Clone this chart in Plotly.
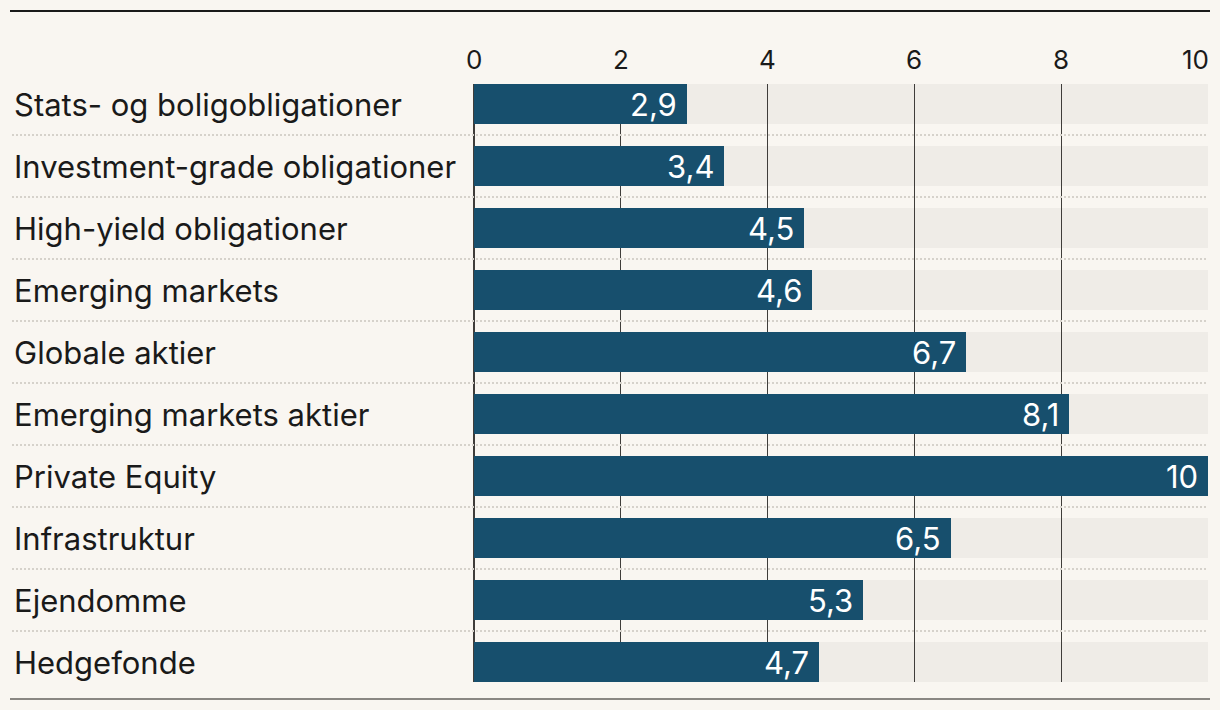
import plotly.graph_objects as go

categories = [
    "Stats- og boligobligationer",
    "Investment-grade obligationer",
    "High-yield obligationer",
    "Emerging markets",
    "Globale aktier",
    "Emerging markets aktier",
    "Private Equity",
    "Infrastruktur",
    "Ejendomme",
    "Hedgefonde",
]
values = [2.9, 3.4, 4.5, 4.6, 6.7, 8.1, 10, 6.5, 5.3, 4.7]
tick_vals = [0, 2, 4, 6, 8, 10]
x_max = 10

BG = "#F9F6F1"
TRACK = "#EFECE7"
BLUE = "#174F6D"
FONT = "Inter"

n = len(categories)
idx = list(range(n))
half = 20 / 62  # bar half-height in row units

fig = go.Figure()
fig.add_trace(go.Bar(
    x=values, y=idx, orientation="h",
    width=2 * half, marker=dict(color=BLUE, line=dict(width=0)),
    hoverinfo="skip", showlegend=False,
))

shapes = []
# background tracks
for i in idx:
    shapes.append(dict(type="rect", xref="x", yref="y", x0=0, x1=x_max,
                       y0=i - half, y1=i + half, fillcolor=TRACK,
                       line=dict(width=0), layer="below"))
# dotted separators
for i in idx[:-1]:
    shapes.append(dict(type="line", xref="paper", yref="y",
                       x0=(12 - 474) / 734, x1=1.0, y0=i + 0.5, y1=i + 0.5,
                       line=dict(color="#D6D2CB", width=2, dash="2px,2px"),
                       layer="above"))
# top and bottom rules
shapes.append(dict(type="line", xref="paper", yref="paper",
                   x0=(10 - 474) / 734, x1=(1210 - 474) / 734,
                   y0=(682 - 11) / 598, y1=(682 - 11) / 598,
                   line=dict(color="#1A1A1A", width=2)))
shapes.append(dict(type="line", xref="paper", yref="paper",
                   x0=(10 - 474) / 734, x1=(1210 - 474) / 734,
                   y0=(682 - 699) / 598, y1=(682 - 699) / 598,
                   line=dict(color="#8A8783", width=2)))

annotations = []
for i, c in enumerate(categories):
    annotations.append(dict(text=c, xref="paper", yref="y",
                            x=(12 - 474) / 734, y=i, xanchor="left",
                            yanchor="middle", showarrow=False,
                            font=dict(family=FONT, size=31, color="#1A1A1A")))
for i, v in enumerate(values):
    txt = f"{v:g}".replace(".", ",")
    annotations.append(dict(text=txt, xref="x", yref="y", x=v, y=i,
                            xanchor="right", yanchor="middle", xshift=-8,
                            showarrow=False,
                            font=dict(family=FONT, size=31, color="white")))
for t in tick_vals:
    annotations.append(dict(text=str(t), xref="x", yref="paper", x=t, y=1,
                            xanchor="right" if t == x_max else "center",
                            xshift=3 if t == x_max else 0,
                            yanchor="middle", yshift=25, showarrow=False,
                            font=dict(family=FONT, size=26, color="#1A1A1A")))

fig.update_layout(
    width=1220, height=710,
    margin=dict(l=474, r=12, t=84, b=28),
    paper_bgcolor=BG, plot_bgcolor=BG,
    shapes=shapes, annotations=annotations,
    xaxis=dict(range=[0, x_max], tickvals=tick_vals, showticklabels=False,
               showgrid=True, gridcolor="#3F3D3A", gridwidth=1,
               zeroline=True, zerolinecolor="#3F3D3A", zerolinewidth=2,
               showline=False, ticks="", fixedrange=True),
    yaxis=dict(range=[n - 1 + half, -half], showticklabels=False,
               showgrid=False, zeroline=False, showline=False, ticks="",
               fixedrange=True),
    bargap=0,
)

fig.write_html(
    "out.html",
    config={"displayModeBar": False},
    post_script="document.body.style.margin='0';document.body.style.background='#F9F6F1';",
)
